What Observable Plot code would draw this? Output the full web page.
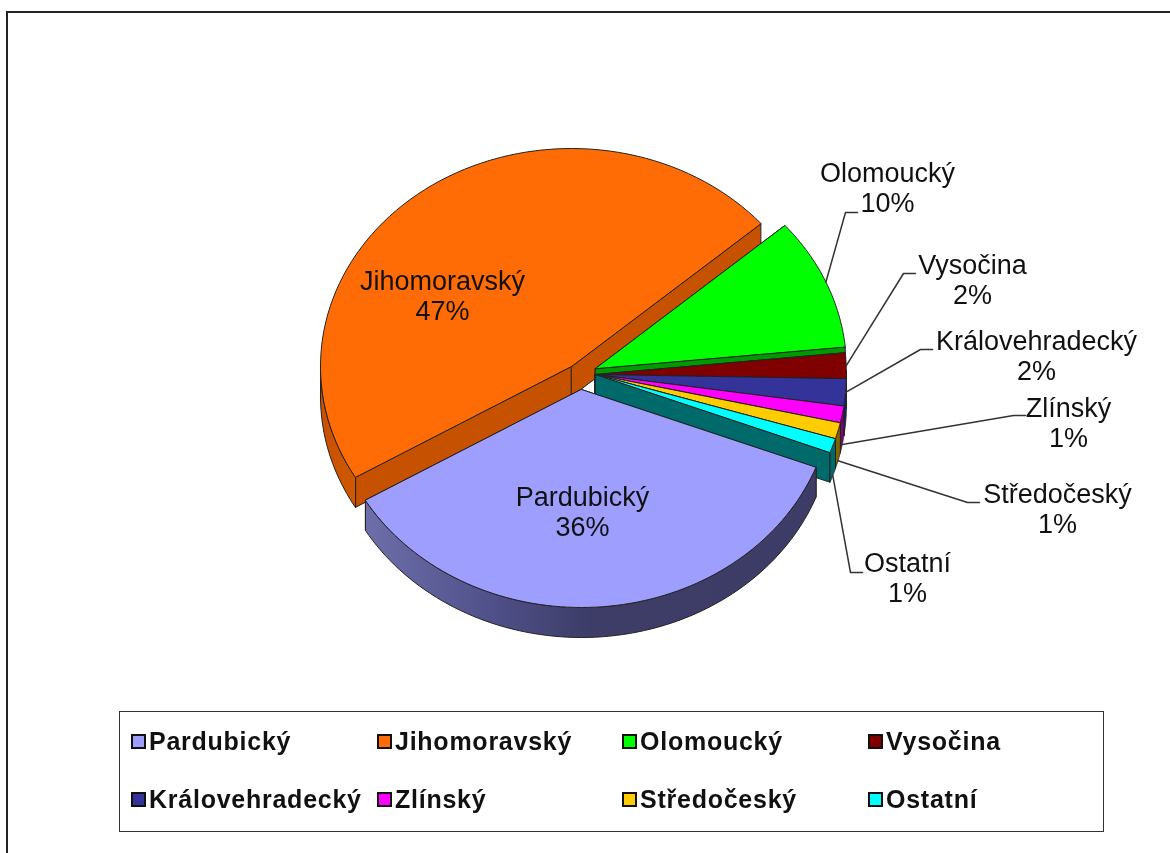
<!DOCTYPE html>
<html><head><meta charset="utf-8">
<script src="https://cdn.jsdelivr.net/npm/d3@7"></script>
<script src="https://cdn.jsdelivr.net/npm/@observablehq/plot@0.6"></script>
<style>
html,body{margin:0;padding:0;background:#fff;width:1170px;height:853px;overflow:hidden}
#page{position:relative;width:1170px;height:853px;font-family:"Liberation Sans",Arial,sans-serif}
#frame{position:absolute;left:6px;top:11px;right:-5px;bottom:-5px;border-left:2px solid #222;border-top:2px solid #222}
#chart{position:absolute;left:0;top:0;filter:blur(.45px)}
#legend{position:absolute;left:119px;top:711px;width:983px;height:119px;border:1px solid #333;box-sizing:content-box;filter:blur(.45px)}
.item{position:absolute;display:flex;align-items:center;font:bold 25px "Liberation Sans",Arial,sans-serif;color:#111;letter-spacing:.75px;white-space:nowrap}
.sw{display:inline-block;width:11px;height:11px;border:2px solid #111;margin-right:3px}
</style></head><body>
<div id="page"><div id="frame"></div><div id="chart"></div><div id="legend"></div></div>
<script>
// DATA
const regions = ["Pardubický","Jihomoravský","Olomoucký","Vysočina","Královehradecký","Zlínský","Středočeský","Ostatní"];
const shares = [35.7,47.1,9.8,1.9,2.0,1.25,1.2,1.05];
const topColors = ["#9E9EFF","#FF6C05","#00FF00","#800000","#333399","#FF00FF","#FFCC00","#00FFFF"];
const wallColors = ["#4d4d80","#c65100","#009900","#600000","#20206e","#800080","#806600","#006a6a"];
// LAYOUT
const rx = 251, ry = 218, depth = 30, startDeg = 110.9;
const tipX = [581,571,595,595,595,595,595,595];
const tipY = [389,366,368,374,374,374,374,374];
const labelX = [582,442,887,972,1036,1068,1057,907];
const labelY = [511,295,187,279,355,422,508,577];
const leaderBend = [null,null,[845,212,857],[903,273,915],[920,349,932],[1013,415,1025],[967,502,979],[850,572,862]];
const leaderDrop = [0,0,0,0,0,1,1,1];
const drawOrder = [1,2,3,4,5,6,7,0];

const arcs = d3.pie().sort(null).startAngle(startDeg*Math.PI/180).endAngle((startDeg+360)*Math.PI/180)(shares);
const pt = (i,a,dy=0)=>[tipX[i]+rx*Math.sin(a), tipY[i]-ry*Math.cos(a)+dy];
const rows=[]; let id=0;
function poly(points,fill,stroke){const k=id++;for(const p of points)rows.push({k,x:p[0],y:p[1],fill,stroke});}
const steps=a=>d3.range(0,81).map(t=>a.startAngle+(a.endAngle-a.startAngle)*t/80);
for(const i of drawOrder){
  const a=arcs[i],tip=[tipX[i],tipY[i]],tipD=[tipX[i],tipY[i]+depth];
  for(const e of [a.startAngle,a.endAngle]) poly([tip,pt(i,e),pt(i,e,depth),tipD],wallColors[i],"#222");
  const front=steps(a).filter(t=>Math.cos(t)<0.02);
  if(front.length>1) poly([...front.map(t=>pt(i,t)),...front.slice().reverse().map(t=>pt(i,t,depth))],i==0?"url(#bandBlue)":i==1?"url(#bandOrange)":wallColors[i],"#222");
  poly([tip,...steps(a).map(t=>pt(i,t))],topColors[i],"#222");
}
const leaders=[];
regions.forEach((r,i)=>{ if(!leaderBend[i])return;
  const [bx,by,ex]=leaderBend[i], m=(arcs[i].startAngle+arcs[i].endAngle)/2, s=pt(i,m,leaderDrop[i]*depth);
  [[s[0],s[1]],[bx,by],[ex,by]].forEach(p=>leaders.push({r,x:p[0],y:p[1]}));
});
const labels=regions.map((r,i)=>({x:labelX[i],y:labelY[i],t:`${r}\n${Math.round(shares[i])}%`}));
const defs=()=>{const d=d3.create("svg:defs");
  const g=(id,stops)=>{const l=d.append("linearGradient").attr("id",id);stops.forEach(([o,c])=>l.append("stop").attr("offset",o).attr("stop-color",c));};
  g("bandBlue",[[0,"#6e6eaa"],[.28,"#50508a"],[.5,"#3d3d68"],[1,"#3c3c66"]]);
  g("bandOrange",[[0,"#c85000"],[1,"#d05800"]]);
  return d.node();};
const plot=Plot.plot({width:1170,height:700,margin:0,
  x:{domain:[0,1170],range:[0,1170],axis:null},y:{domain:[0,700],range:[0,700],axis:null},
  style:{background:"transparent"},
  marks:[defs,
    Plot.line(rows,{x:"x",y:"y",z:"k",fill:"fill",stroke:"stroke",strokeWidth:1,curve:"linear-closed"}),
    Plot.line(leaders,{x:"x",y:"y",z:"r",stroke:"#333",strokeWidth:1.5}),
    Plot.text(labels,{x:"x",y:"y",text:"t",fontSize:27,lineHeight:1.12,fill:"#111",fontFamily:"Liberation Sans"})
  ]});
document.getElementById("chart").append(plot);
const legendX=[11,257,502,748], legendY=[29,87];
const lg=document.getElementById("legend");
regions.forEach((r,i)=>{const d=document.createElement("div");d.className="item";
  d.style.left=legendX[i%4]+"px";d.style.top=(legendY[i>>2]-14)+"px";
  d.innerHTML=`<span class="sw" style="background:${topColors[i]}"></span>${r}`;lg.append(d);});
</script></body></html>
